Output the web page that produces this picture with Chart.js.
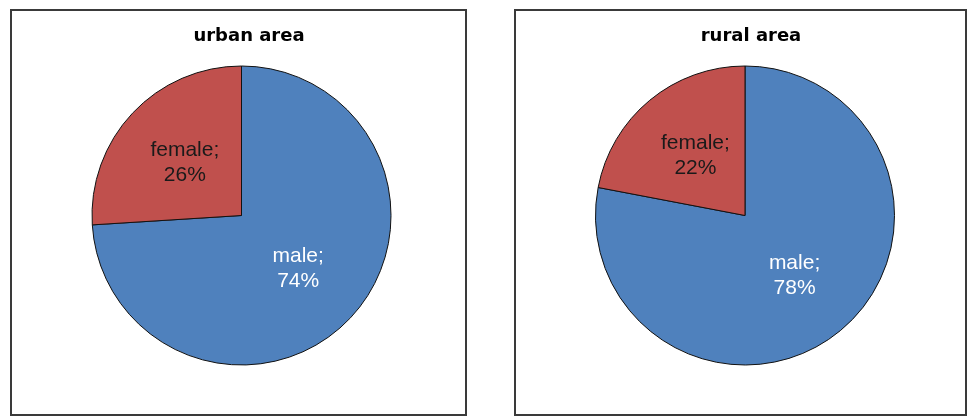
<!DOCTYPE html>
<html>
<head>
<meta charset="utf-8">
<script src="https://cdn.jsdelivr.net/npm/chart.js@4/dist/chart.umd.min.js"></script>
<style>
  html, body { margin: 0; padding: 0; background: #fff; }
  body { width: 969px; height: 417px; position: relative; overflow: hidden; }
  .panel { position: absolute; box-sizing: border-box; border: 2px solid #3a3a3a; background: #fff; }
  .panel canvas { position: absolute; left: 0; top: 0; }
  .title { position: absolute; font: bold 18px "DejaVu Sans", sans-serif; color: #000; white-space: nowrap; transform: translateX(-50%); }
</style>
</head>
<body>
<div class="panel" id="p1" style="left:10px;top:9px;width:457px;height:407px;">
  <canvas id="c1" width="453" height="403"></canvas>
</div>
<div class="panel" id="p2" style="left:514px;top:9px;width:453px;height:407px;">
  <canvas id="c2" width="449" height="403"></canvas>
</div>
<div class="title" id="t1" style="left:249px;top:24px;"></div>
<div class="title" id="t2" style="left:751px;top:24px;"></div>
<script>
// Gender split of the two survey groups
const categories = ['male', 'female'];
const urbanShares = [74, 26];
const ruralShares = [78, 22];
const panelTitles = ['urban area', 'rural area'];

const sliceColors = ['#4F81BD', '#C0504D'];
const labelColors = ['#ffffff', '#1a1a1a'];

// Writes "category;" and "value%" inside each slice, along its middle angle
const sliceLabels = {
  id: 'sliceLabels',
  afterDatasetsDraw(chart) {
    const ctx = chart.ctx;
    const meta = chart.getDatasetMeta(0);
    const values = chart.data.datasets[0].data;
    ctx.save();
    ctx.font = '21px "Liberation Sans", Arial, sans-serif';
    ctx.textAlign = 'center';
    ctx.textBaseline = 'middle';
    meta.data.forEach((arc, i) => {
      const p = arc.getProps(['x', 'y', 'startAngle', 'endAngle', 'outerRadius'], true);
      const mid = (p.startAngle + p.endAngle) / 2;
      const d = p.outerRadius * 0.52;
      const cx = p.x + Math.cos(mid) * d;
      const cy = p.y + Math.sin(mid) * d;
      ctx.fillStyle = labelColors[i];
      ctx.fillText(chart.data.labels[i] + ';', cx, cy - 12.5);
      ctx.fillText(values[i] + '%', cx, cy + 12.5);
    });
    ctx.restore();
  }
};

function makePie(canvasId, values, padding) {
  return new Chart(document.getElementById(canvasId), {
    type: 'pie',
    data: {
      labels: categories,
      datasets: [{
        data: values,
        backgroundColor: sliceColors,
        borderColor: '#111',
        borderWidth: 1
      }]
    },
    options: {
      responsive: false,
      animation: false,
      rotation: 0,
      layout: { padding },
      plugins: {
        legend: { display: false },
        tooltip: { enabled: false },
        title: { display: false }
      }
    },
    plugins: [sliceLabels]
  });
}

document.getElementById('t1').textContent = panelTitles[0];
document.getElementById('t2').textContent = panelTitles[1];

makePie('c1', urbanShares, { left: 79.5, right: 73.5, top: 54.5, bottom: 48.5 });
makePie('c2', ruralShares, { left: 79, right: 70, top: 54.5, bottom: 48.5 });
</script>
</body>
</html>
